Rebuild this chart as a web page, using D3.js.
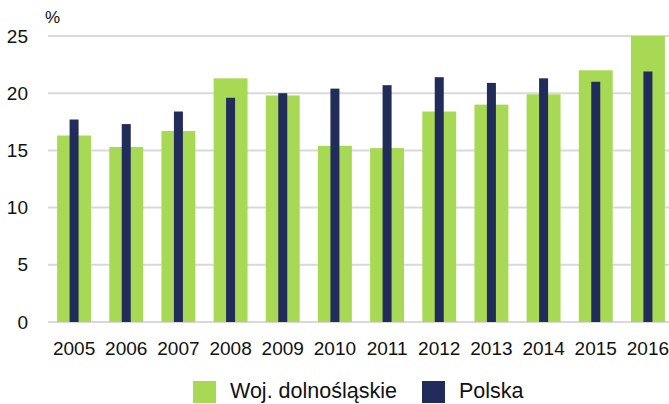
<!DOCTYPE html>
<html>
<head>
<meta charset="utf-8">
<script src="https://cdn.jsdelivr.net/npm/d3@7"></script>
<style>
  body { margin: 0; background: #fff; }
  text { font-family: "Liberation Sans", Arial, sans-serif; fill: #111; }
</style>
</head>
<body>
<main></main>
<script>
const years = ['2005', '2006', '2007', '2008', '2009', '2010', '2011', '2012', '2013', '2014', '2015', '2016']
const dolnoslaskie = [16.3, 15.3, 16.7, 21.3, 19.8, 15.4, 15.2, 18.4, 19.0, 19.9, 22.0, 25.0]
const polska = [17.7, 17.3, 18.4, 19.6, 20.0, 20.4, 20.7, 21.4, 20.9, 21.3, 21.0, 21.9]
const yTicks = [0, 5, 10, 15, 20, 25]
const seriesNames = ['Woj. dolnośląskie', 'Polska']

const width = 669
const height = 404
const green = '#a8d955'
const navy = '#222c5a'

const svg = d3.select('main')
  .append('svg')
  .attr('width', width)
  .attr('height', height)

const xScale = d3.scaleBand()
  .domain(years)
  .range([48, 674])
  .paddingInner(0.35)
  .paddingOuter(0.175)

const yScale = d3.scaleLinear()
  .domain([0, 25])
  .range([322, 36])

// grid lines
svg.append('g')
  .selectAll('line')
  .data(yTicks)
  .enter()
  .append('line')
  .attr('x1', 48)
  .attr('x2', width)
  .attr('y1', d => yScale(d))
  .attr('y2', d => yScale(d))
  .attr('stroke', '#d9d9d9')
  .attr('stroke-width', 2)

// y axis labels
const yAxis = svg.append('g')
  .attr('transform', 'translate(28,0)')
  .call(d3.axisLeft(yScale).tickValues(yTicks).tickSize(0).tickPadding(0))
yAxis.select('.domain').remove()
yAxis.selectAll('text').attr('font-size', 19).attr('fill', '#111')
  .attr('font-family', '"Liberation Sans", Arial, sans-serif')

svg.append('text')
  .attr('x', 45)
  .attr('y', 23)
  .attr('font-size', 17)
  .text('%')

// green bars
svg.append('g')
  .selectAll('rect')
  .data(dolnoslaskie)
  .enter()
  .append('rect')
  .attr('x', (d, i) => xScale(years[i]))
  .attr('y', d => yScale(d))
  .attr('width', xScale.bandwidth())
  .attr('height', d => yScale(0) - yScale(d))
  .attr('fill', green)

// navy bars
const navyW = 9
svg.append('g')
  .selectAll('rect')
  .data(polska)
  .enter()
  .append('rect')
  .attr('x', (d, i) => xScale(years[i]) + xScale.bandwidth() / 2 - navyW / 2)
  .attr('y', d => yScale(d))
  .attr('width', navyW)
  .attr('height', d => yScale(0) - yScale(d))
  .attr('fill', navy)

// x axis labels
const xAxis = svg.append('g')
  .attr('transform', 'translate(0,341)')
  .call(d3.axisBottom(xScale).tickSize(0).tickPadding(0))
xAxis.select('.domain').remove()
xAxis.selectAll('text').attr('font-size', 19).attr('fill', '#111')
  .attr('font-family', '"Liberation Sans", Arial, sans-serif')

// legend
const legend = svg.append('g')
const legendX = [193, 422]
const legendColors = [green, navy]
seriesNames.forEach((name, i) => {
  legend.append('rect')
    .attr('x', legendX[i])
    .attr('y', 381)
    .attr('width', 23)
    .attr('height', 22)
    .attr('fill', legendColors[i])
  legend.append('text')
    .attr('x', legendX[i] + 37)
    .attr('y', 398)
    .attr('font-size', 21.5)
    .text(name)
})
</script>
</body>
</html>
